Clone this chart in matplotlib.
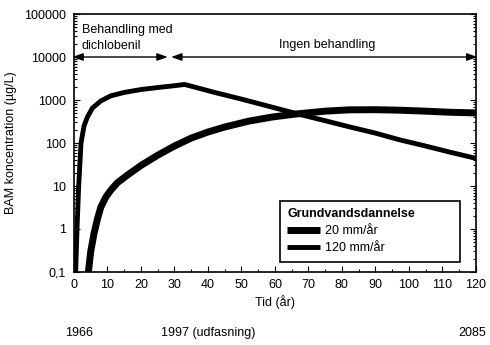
import numpy as np
import matplotlib
matplotlib.use('Agg')
import matplotlib.pyplot as plt
from matplotlib.ticker import LogLocator, FuncFormatter, MultipleLocator, NullFormatter
from matplotlib.transforms import blended_transform_factory

plt.rcParams['font.family'] = ['Liberation Sans', 'DejaVu Sans']
plt.rcParams['font.size'] = 9

# --- Data: BAM concentration (ug/L) over time (years) ---

# 120 mm/aar groundwater recharge
years_120 = [0.5, 0.9, 1.4, 2.1, 3.0, 4.0, 5.5, 8, 11, 15, 20, 25, 30, 33,
             36, 42, 50, 58, 67, 75, 82, 90, 97, 105, 112, 120]
conc_120 = [0.1, 1, 10, 100, 250, 400, 650, 950, 1250, 1500, 1750, 1950, 2150, 2300,
            2000, 1500, 1050, 720, 470, 330, 240, 170, 120, 85, 62, 44]

# 20 mm/aar groundwater recharge
years_20 = [4.3, 5, 6, 7, 8, 9.5, 11, 13, 16, 20, 25, 30, 35, 40, 45, 52, 59,
            66, 75, 82, 90, 97, 105, 112, 120]
conc_20 = [0.1, 0.3, 0.8, 1.7, 3.2, 5.5, 8, 12, 18, 30, 52, 85, 130, 180, 235, 320, 400,
           470, 550, 590, 595, 580, 550, 520, 500]

x_ticks = list(range(0, 121, 10))
y_ticks = [0.1, 1, 10, 100, 1000, 10000, 100000]

# Calendar years under the time axis
year_labels = ['1966', '1997 (udfasning)', '2085']
year_pos = [1.5, 26, 119]
year_align = ['center', 'left', 'center']

# --- Plot ---
fig = plt.figure(figsize=(4.9, 3.45), dpi=100)
ax = fig.add_axes([0.151, 0.2116, 0.820, 0.7478])

ax.plot(years_20, conc_20, color='black', lw=5, solid_capstyle='butt', label='20 mm/år')
ax.plot(years_120, conc_120, color='black', lw=3.5, solid_capstyle='butt', label='120 mm/år')

ax.set_yscale('log')
ax.set_xlim(0, 120)
ax.set_ylim(0.1, 100000)

ax.set_xticks(x_ticks)
ax.xaxis.set_minor_locator(MultipleLocator(5))
ax.yaxis.set_minor_locator(LogLocator(base=10, subs=np.arange(2, 10)))
ax.yaxis.set_minor_formatter(NullFormatter())
ax.set_yticks(y_ticks)
ax.yaxis.set_major_formatter(FuncFormatter(
    lambda v, p: ('%g' % v).replace('.', ',') if v < 1 else '%d' % round(v)))

ax.tick_params(which='both', direction='in', right=True, top=False, width=0.8)
ax.tick_params(which='major', length=4, labelsize=9)
ax.tick_params(which='minor', length=2)
ax.tick_params(axis='y', pad=6)
ax.tick_params(axis='x', pad=5)
for s in ax.spines.values():
    s.set_linewidth(1.2)

ax.set_xlabel('Tid (år)', fontsize=9, labelpad=3)
ax.set_ylabel('BAM koncentration (µg/L)', fontsize=9, labelpad=5)

# Treatment period arrows
arrow_style = dict(arrowstyle='<|-|>,head_length=0.7,head_width=0.25', color='black',
                   lw=1, shrinkA=0, shrinkB=0)
ax.annotate('', xy=(28, 10000), xytext=(-0.5, 10000), arrowprops=arrow_style,
            annotation_clip=False)
ax.annotate('', xy=(120.5, 10000), xytext=(29, 10000), arrowprops=arrow_style,
            annotation_clip=False)
ax.text(2.3, 28000, 'Behandling med\ndichlobenil', ha='left', va='center',
        fontsize=9, linespacing=1.4)
ax.text(75.5, 19000, 'Ingen behandling', ha='center', va='center', fontsize=9)

trans = blended_transform_factory(ax.transData, ax.transAxes)
for lbl, xp, ha in zip(year_labels, year_pos, year_align):
    ax.text(xp, -0.236, lbl, transform=trans, ha=ha, va='center', fontsize=9)

leg = ax.legend(loc='lower left', bbox_to_anchor=(0.512, 0.039, 0.448, 0.228),
                mode='expand', borderaxespad=0, title='Grundvandsdannelse',
                fancybox=False, edgecolor='black', framealpha=1, handlelength=2.6,
                labelspacing=0.4, borderpad=0.6, handletextpad=0.4,
                alignment='left', title_fontproperties={'weight': 'bold', 'size': 9})
leg.get_frame().set_linewidth(1.2)

fig.savefig('out.png', dpi=100)
